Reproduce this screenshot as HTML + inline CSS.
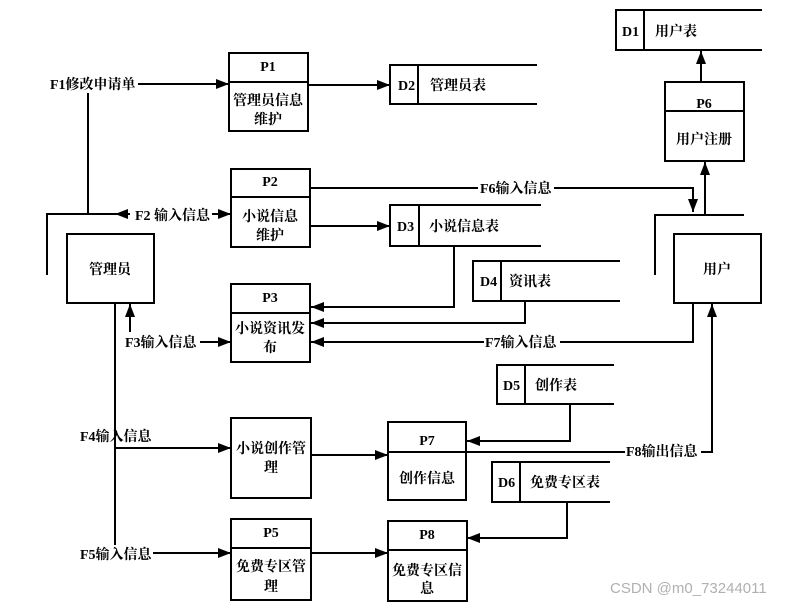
<!DOCTYPE html>
<html><head><meta charset="utf-8"><style>
body{margin:0;background:#fff}
svg text{font-family:"Liberation Serif","Noto Serif CJK SC",serif;font-size:14px;font-weight:bold;fill:#000}
</style></head><body>
<svg width="800" height="606" viewBox="0 0 800 606" xmlns="http://www.w3.org/2000/svg">
<defs><marker id="a" markerWidth="13" markerHeight="10" refX="13" refY="5" orient="auto" markerUnits="userSpaceOnUse"><path d="M0,0 L13,5 L0,10 z" fill="#000"/></marker></defs>
<g fill="none" stroke="#000" stroke-width="2">
<rect x="229" y="53" width="79" height="78"/><line x1="229" y1="82" x2="308" y2="82"/>
<rect x="231" y="169" width="79" height="78"/><line x1="231" y1="197" x2="310" y2="197"/>
<rect x="231" y="284" width="79" height="78"/><line x1="231" y1="313" x2="310" y2="313"/>
<rect x="231" y="418" width="80" height="80"/>
<rect x="388" y="422" width="78" height="78"/><line x1="388" y1="452" x2="466" y2="452"/>
<rect x="231" y="519" width="80" height="81"/><line x1="231" y1="548" x2="311" y2="548"/>
<rect x="388" y="521" width="79" height="80"/><line x1="388" y1="550" x2="467" y2="550"/>
<rect x="665" y="82" width="79" height="79"/><line x1="665" y1="111" x2="744" y2="111"/>
<rect x="67" y="234" width="87" height="69"/>
<rect x="674" y="234" width="87" height="69"/>
<path d="M537,65 H390 V104 H537 M418,65 V104"/>
<path d="M541,205 H390 V246 H541 M419,205 V246"/>
<path d="M620,261 H473 V301 H620 M501,261 V301"/>
<path d="M614,365 H497 V404 H614 M525,365 V404"/>
<path d="M610,462 H492 V502 H610 M520,462 V502"/>
<path d="M762,10 H616 V50 H762 M644,10 V50"/>
<line x1="137" y1="84" x2="229" y2="84" marker-end="url(#a)"/>
<line x1="308" y1="85" x2="390" y2="85" marker-end="url(#a)"/>
<path d="M88,93 V214"/>
<path d="M47,275 V214 H117"/>
<line x1="130" y1="214" x2="115" y2="214" marker-end="url(#a)"/>
<line x1="212" y1="214" x2="231" y2="214" marker-end="url(#a)"/>
<path d="M310,188 H693 V212" marker-end="url(#a)"/>
<line x1="310" y1="226" x2="390" y2="226" marker-end="url(#a)"/>
<path d="M454,246 V307 H311" marker-end="url(#a)"/>
<path d="M525,301 V323 H311" marker-end="url(#a)"/>
<path d="M693,303 V342 H311" marker-end="url(#a)"/>
<line x1="130" y1="332" x2="130" y2="304" marker-end="url(#a)"/>
<line x1="200" y1="342" x2="231" y2="342" marker-end="url(#a)"/>
<path d="M115,303 V545"/>
<line x1="115" y1="448" x2="231" y2="448" marker-end="url(#a)"/>
<line x1="311" y1="455" x2="388" y2="455" marker-end="url(#a)"/>
<path d="M466,452 H712 V304" marker-end="url(#a)"/>
<path d="M570,404 V441 H467" marker-end="url(#a)"/>
<path d="M567,502 V538 H467" marker-end="url(#a)"/>
<line x1="153" y1="553" x2="231" y2="553" marker-end="url(#a)"/>
<line x1="311" y1="553" x2="388" y2="553" marker-end="url(#a)"/>
<line x1="701" y1="82" x2="701" y2="51" marker-end="url(#a)"/>
<line x1="705" y1="215" x2="705" y2="162" marker-end="url(#a)"/>
<path d="M655,275 V215 H744"/>
</g>
<g fill="#fff">
<rect x="48" y="75" width="90" height="18"/>
<rect x="130" y="206" width="82" height="18"/>
<rect x="478" y="180" width="76" height="16"/>
<rect x="124" y="334" width="76" height="16"/>
<rect x="484" y="334" width="76" height="16"/>
<rect x="625" y="443" width="76" height="16"/>
</g>
<g text-anchor="middle">
<text x="268" y="71">P1</text><text x="268" y="105">管理员信息</text><text x="268" y="124">维护</text>
<text x="270" y="186">P2</text><text x="270" y="221">小说信息</text><text x="270" y="240">维护</text>
<text x="270" y="302">P3</text><text x="270" y="333">小说资讯发</text><text x="270" y="352">布</text>
<text x="271" y="453">小说创作管</text><text x="271" y="472">理</text>
<text x="427" y="445">P7</text><text x="427" y="483">创作信息</text>
<text x="271" y="537">P5</text><text x="271" y="571">免费专区管</text><text x="271" y="591">理</text>
<text x="427" y="539">P8</text><text x="427" y="575">免费专区信</text><text x="427" y="593">息</text>
<text x="704" y="108">P6</text><text x="704" y="144">用户注册</text>
<text x="110" y="274">管理员</text>
<text x="717" y="274">用户</text>
</g>
<text x="398" y="90">D2</text><text x="430" y="90">管理员表</text>
<text x="397" y="231">D3</text><text x="429" y="231">小说信息表</text>
<text x="480" y="286">D4</text><text x="509" y="286">资讯表</text>
<text x="503" y="390">D5</text><text x="535" y="390">创作表</text>
<text x="498" y="487">D6</text><text x="530" y="487">免费专区表</text>
<text x="622" y="36">D1</text><text x="655" y="36">用户表</text>
<text x="50" y="89">F1修改申请单</text>
<text x="135" y="220">F2 输入信息</text>
<text x="480" y="193">F6输入信息</text>
<text x="125" y="347">F3输入信息</text>
<text x="485" y="347">F7输入信息</text>
<text x="80" y="441">F4输入信息</text>
<text x="626" y="456">F8输出信息</text>
<text x="80" y="559">F5输入信息</text>
<text x="610" y="593" style="font-family:'Liberation Sans',sans-serif;font-weight:normal;font-size:15px;fill:#b0b0b0">CSDN @m0_73244011</text>
</svg>
</body></html>
